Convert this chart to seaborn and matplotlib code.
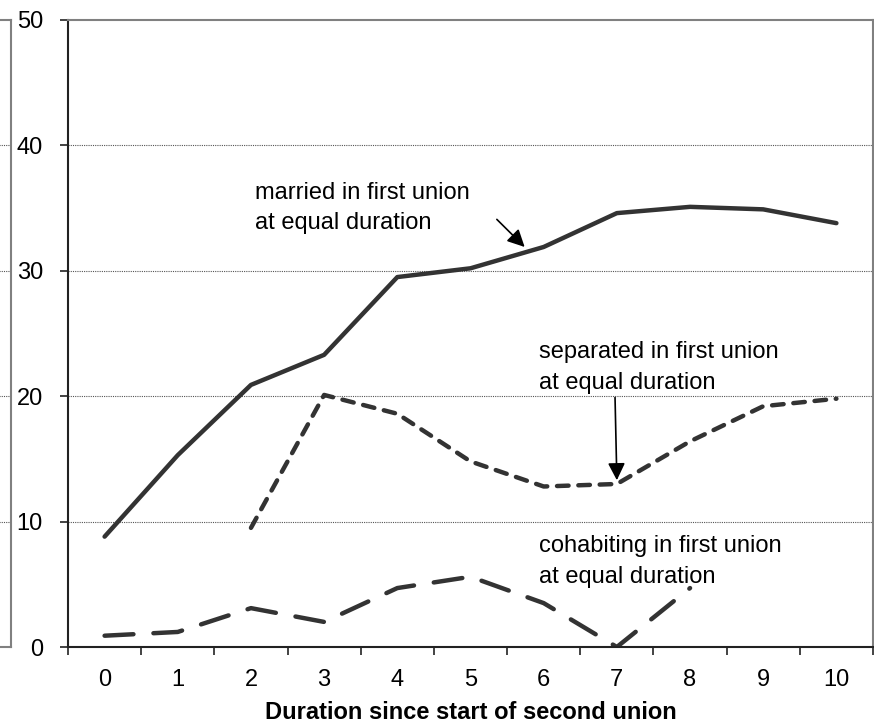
import matplotlib
matplotlib.use("Agg")
import matplotlib.pyplot as plt
import seaborn as sns

durations = [0, 1, 2, 3, 4, 5, 6, 7, 8, 9, 10]
married = [8.8, 15.3, 20.9, 23.3, 29.5, 30.2, 31.9, 34.6, 35.1, 34.9, 33.8]
separated_x = [2, 3, 4, 5, 6, 7, 8, 9, 10]
separated = [9.5, 20.1, 18.6, 14.8, 12.8, 13.0, 16.4, 19.2, 19.8]
cohabiting_x = [0, 1, 2, 3, 4, 5, 6, 7, 8]
cohabiting = [0.9, 1.2, 3.1, 2.0, 4.7, 5.6, 3.5, 0.0, 4.7]
y_ticks = [0, 10, 20, 30, 40, 50]

sns.set_theme(style="white")
plt.rcParams["font.family"] = ["Liberation Sans", "DejaVu Sans"]
plt.rcParams["text.color"] = "black"
plt.rcParams["xtick.labelcolor"] = "black"
plt.rcParams["ytick.labelcolor"] = "black"
plt.rcParams["axes.labelcolor"] = "black"

W, H = 874, 727
fig = plt.figure(figsize=(W / 100, H / 100), dpi=100)

line_color = "#333333"
grid_kw = dict(color="#555555", linestyle=(0, (1, 1)), linewidth=0.8)
arrow_kw = dict(arrowstyle="-|>", color="black", lw=1.2, mutation_scale=26,
                shrinkA=0, shrinkB=0)
FS = 17

# remnant of the neighbouring panel on the left edge
ax0 = fig.add_axes([-100 / W, 1 - 647 / H, 111 / W, 627 / H])
ax0.set_ylim(0, 50)
ax0.set_xlim(0, 1)
ax0.set_xticks([])
ax0.set_yticks([])
for y in y_ticks[1:-1]:
    ax0.axhline(y, **grid_kw)
ax0.spines["left"].set_visible(False)
for side in ["top", "right", "bottom"]:
    ax0.spines[side].set_color("#808080")
    ax0.spines[side].set_linewidth(1.5)

ax = fig.add_axes([68 / W, 1 - 647 / H, 805 / W, 627 / H])

sns.lineplot(x=durations, y=married, ax=ax, color=line_color, linewidth=3.2,
             solid_capstyle="round", solid_joinstyle="round")
sns.lineplot(x=separated_x, y=separated, ax=ax, color=line_color, linewidth=3.2,
             linestyle=(0, (2.6, 2.2)))
sns.lineplot(x=cohabiting_x, y=cohabiting, ax=ax, color=line_color, linewidth=3.2,
             linestyle=(0, (6.5, 4.5)))
for ln in ax.lines[1:]:
    ln.set_dash_capstyle("round")

ax.set_xlim(-0.5, 10.5)
ax.set_ylim(0, 50)
ax.set_yticks(y_ticks)
ax.set_xticks(durations)
ax.set_xticks([i - 0.5 for i in range(12)], minor=True)
ax.set_xticklabels([str(d) for d in durations], fontsize=FS)
ax.set_yticklabels([str(v) for v in y_ticks], fontsize=FS)
ax.tick_params(axis="x", which="major", length=0, pad=16)
ax.tick_params(axis="x", which="minor", bottom=True, length=6, width=1.2, color="#222222")
ax.tick_params(axis="y", left=True, length=6, width=1.2, color="#222222", pad=12)

for y in y_ticks[1:-1]:
    ax.axhline(y, **grid_kw, zorder=0)

for side in ["left", "bottom"]:
    ax.spines[side].set_color("#222222")
    ax.spines[side].set_linewidth(1.5)
for side in ["top", "right"]:
    ax.spines[side].set_color("#808080")
    ax.spines[side].set_linewidth(1.5)

ax.set_xlabel("Duration since start of second union", fontsize=FS,
              fontweight="bold", labelpad=7)
ax.set_ylabel("")

ax.text(2.05, 35.0, "married in first union\nat equal duration", fontsize=FS,
        ha="left", va="center", linespacing=1.5)
ax.annotate("", xy=(5.74, 31.9), xytext=(5.36, 34.1), arrowprops=arrow_kw)

ax.text(5.93, 22.3, "separated in first union\nat equal duration", fontsize=FS,
        ha="left", va="center", linespacing=1.5)
ax.annotate("", xy=(7.0, 13.3), xytext=(6.975, 19.9), arrowprops=arrow_kw)

ax.text(5.93, 6.8, "cohabiting in first union\nat equal duration", fontsize=FS,
        ha="left", va="center", linespacing=1.5)

fig.savefig("out.png", dpi=100)
